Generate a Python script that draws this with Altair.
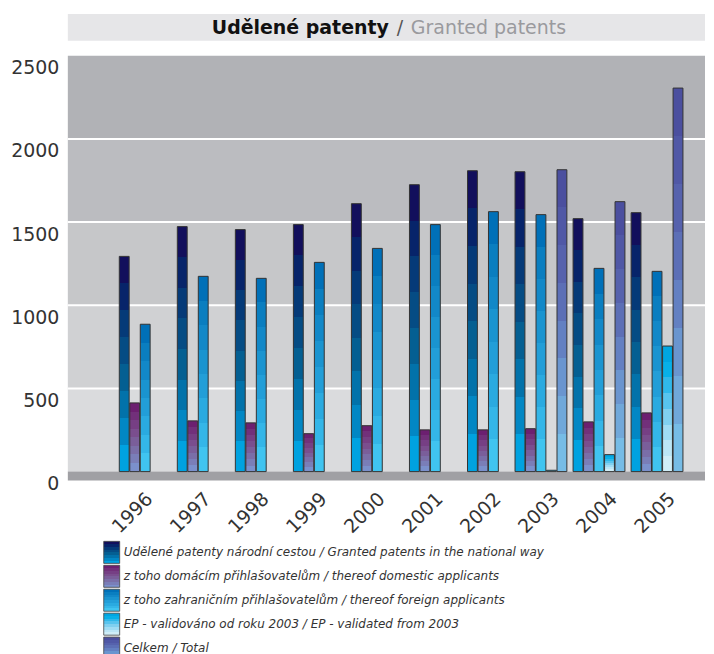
import altair as alt
import pandas as pd

# ---------------- data ----------------
years = [1996, 1997, 1998, 1999, 2000, 2001, 2002, 2003, 2004, 2005]
national = [1294, 1473, 1455, 1485, 1611, 1725, 1809, 1803, 1521, 1557]
domestic = [413, 305, 293, 228, 276, 251, 251, 258, 299, 353]
foreign = [886, 1174, 1162, 1258, 1342, 1485, 1563, 1545, 1222, 1204]
ep_validated = [None, None, None, None, None, None, None, 8, 102, 755]
total = [None, None, None, None, None, None, None, 1815, 1623, 2306]

series_names = [
    "Udělené patenty národní cestou / Granted patents in the national way",
    "z toho domácím přihlašovatelům / thereof domestic applicants",
    "z toho zahraničním přihlašovatelům / thereof foreign applicants",
    "EP - validováno od roku 2003 / EP - validated from 2003",
    "Celkem / Total",
]
y_ticks = [0, 500, 1000, 1500, 2000, 2500]
title_cz = "Udělené patenty"
title_en = "Granted patents"

# ---------------- styles ----------------
band_colors = ["#dadbdd", "#d0d1d3", "#c6c7c9", "#bbbcc0", "#b1b2b6"]
gradient_colors = [
    ["#120f5c", "#07246a", "#053a78", "#054c84", "#045f92", "#0272aa", "#0287c4", "#00a2e0"],
    ["#6c1f70", "#72307a", "#763f84", "#7a4e8e", "#7a5e9a", "#7a6ea8", "#7a7eb8", "#7b90cc"],
    ["#0070b8", "#0a7ec0", "#1288c8", "#1a94d0", "#229ed8", "#2aaae0", "#34b6e8", "#40c4f0"],
    ["#00a6e2", "#08b0e8", "#30b8ea", "#58c4ee", "#80d0f0", "#a0dcf4", "#bce6f6", "#d0eef8"],
    ["#4b4f9f", "#5058a6", "#5662ad", "#5c6fb6", "#6380c2", "#6a95cf", "#70a8da", "#76bce6"],
]
W, H = 639, 417
FONT = "DejaVu Sans"


def stepped(colors):
    n = len(colors)
    stops = []
    for i, c in enumerate(colors):
        stops.append(alt.GradientStop(offset=i / n, color=c))
        stops.append(alt.GradientStop(offset=(i + 1) / n, color=c))
    return alt.LinearGradient(gradient="linear", x1=0, y1=0, x2=0, y2=1, stops=stops)


rows = []
for i, vals in enumerate([national, domestic, foreign, ep_validated, total]):
    for yr, v in zip(years, vals):
        if v is not None:
            rows.append({"year": yr, "series": series_names[i], "idx": i, "value": v})
df = pd.DataFrame(rows)

bands_df = pd.DataFrame({"lo": y_ticks[:-1], "hi": y_ticks[1:]})
grid_df = pd.DataFrame({"v": y_ticks[1:-1]})

y_axis = alt.Axis(
    values=y_ticks, format="d", grid=False, domain=False, ticks=False, title=None,
    labelFontSize=19, labelPadding=9, labelOffset=12, labelColor="#333333",
    labelFont=FONT, labelFontWeight="normal",
)
y_scale = alt.Scale(domain=[0, 2500], nice=False, zero=True)
x_axis = alt.Axis(
    title=None, domain=False, ticks=False, labelAngle=-45, labelAlign="right",
    labelBaseline="middle", labelFontSize=19, labelPadding=24, labelOffset=15,
    labelColor="#333333", labelFont=FONT,
)
x_enc = alt.X(
    "year:O", axis=x_axis,
    scale=alt.Scale(paddingInner=0.107, paddingOuter=0.543, align=0.65),
)
x_off = alt.XOffset("slot:O", scale=alt.Scale(domain=[0, 1, 2, 3, 4], paddingInner=0.06))

bands = alt.Chart(bands_df).mark_rect().encode(
    x=alt.value(0), x2=alt.value(W),
    y=alt.Y("lo:Q", scale=y_scale, axis=y_axis), y2="hi:Q",
    fill=alt.Fill("lo:O", scale=alt.Scale(domain=y_ticks[:-1], range=band_colors), legend=None),
)
grid = alt.Chart(grid_df).mark_rule(color="white", strokeWidth=2).encode(
    y=alt.Y("v:Q", scale=y_scale, axis=y_axis)
)
floor = alt.Chart(pd.DataFrame({"a": [0]})).mark_rect(color="#a0a0a4").encode(
    x=alt.value(0), x2=alt.value(W), y=alt.value(H), y2=alt.value(H + 9)
)
title_box = alt.Chart(pd.DataFrame({"a": [0]})).mark_rect(color="#e6e6e8").encode(
    x=alt.value(0), x2=alt.value(W), y=alt.value(-42), y2=alt.value(-15)
)
t1 = alt.Chart(pd.DataFrame({"t": [title_cz]})).mark_text(
    align="right", baseline="middle", fontSize=19, fontWeight="bold", color="#111111", font=FONT
).encode(x=alt.value(322), y=alt.value(-28), text="t:N")
t2 = alt.Chart(pd.DataFrame({"t": ["/"]})).mark_text(
    align="center", baseline="middle", fontSize=19, color="#555555", font=FONT
).encode(x=alt.value(333), y=alt.value(-28), text="t:N")
t3 = alt.Chart(pd.DataFrame({"t": [title_en]})).mark_text(
    align="left", baseline="middle", fontSize=19, color="#9a9a9e", font=FONT
).encode(x=alt.value(344), y=alt.value(-28), text="t:N")

base = alt.Chart(df).transform_calculate(
    slot="datum.year < 2003 ? datum.idx + 1 : datum.idx"
)
bar_layers = []
for i in range(len(series_names)):
    bar_layers.append(
        base.transform_filter(alt.datum.idx == i)
        .mark_bar(fill=stepped(gradient_colors[i]), stroke="#333333", strokeWidth=1)
        .encode(x=x_enc, xOffset=x_off, y=alt.Y("value:Q", scale=y_scale, axis=y_axis))
    )

main = alt.layer(bands, grid, floor, title_box, t1, t2, t3, *bar_layers).properties(
    width=W, height=H
)

legend_df = pd.DataFrame({"series": series_names, "idx": list(range(len(series_names)))})
ly = alt.Y("series:N", sort=series_names, axis=None,
           scale=alt.Scale(paddingInner=0.08, paddingOuter=0.04))
legend_layers = []
for i in range(len(series_names)):
    legend_layers.append(
        alt.Chart(legend_df).transform_filter(alt.datum.idx == i)
        .mark_rect(fill=stepped(gradient_colors[i]), stroke="#444444", strokeWidth=0.8)
        .encode(x=alt.value(36), x2=alt.value(52), y=ly)
    )
legend_text = alt.Chart(legend_df).mark_text(
    align="left", baseline="middle", fontStyle="italic", fontSize=12, color="#333333", font=FONT
).encode(x=alt.value(56), y=ly, text="series:N")
legend = alt.layer(*legend_layers, legend_text).properties(width=W, height=120)

chart = (
    alt.vconcat(main, legend, spacing=3)
    .properties(padding={"left": 2, "top": 5, "right": 0, "bottom": 0}, background="white")
    .configure(font=FONT)
    .configure_view(stroke=None)
)

chart.save("out.html", embed_options={"renderer": "svg", "actions": False})
